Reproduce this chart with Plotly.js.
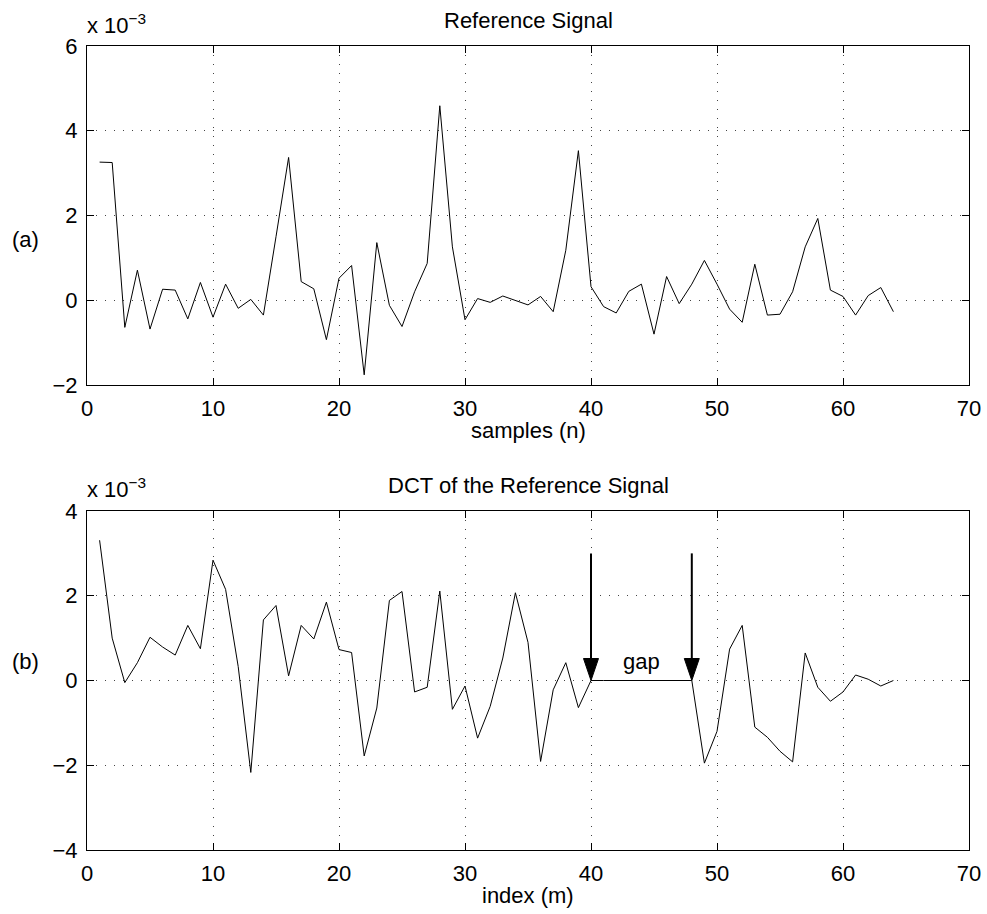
<!DOCTYPE html>
<html>
<head>
<meta charset="utf-8">
<script src="https://cdn.plot.ly/plotly-3.0.1.min.js"></script>
<style>html,body{margin:0;padding:0;background:#fff;}#chart{width:987px;height:914px;}</style>
</head>
<body>
<div id="chart"></div>
<script>
// values in units of 1e-3
var samplesN = [];
for (var i = 1; i <= 64; i++) samplesN.push(i);
var indexM = samplesN.slice();

var refSignal = [3.26, 3.25, -0.64, 0.71, -0.68, 0.26, 0.24, -0.44, 0.42, -0.40,
  0.38, -0.19, 0.02, -0.35, 1.50, 3.37, 0.44, 0.27, -0.93, 0.52,
  0.82, -1.76, 1.36, -0.12, -0.62, 0.20, 0.87, 4.59, 1.26, -0.46,
  0.04, -0.05, 0.10, 0.00, -0.11, 0.09, -0.27, 1.18, 3.53, 0.32,
  -0.15, -0.30, 0.21, 0.38, -0.80, 0.56, -0.08, 0.38, 0.94, 0.38,
  -0.21, -0.52, 0.85, -0.35, -0.33, 0.20, 1.26, 1.93, 0.24, 0.09,
  -0.35, 0.11, 0.30, -0.27];

var dctSignal = [3.31, 1.00, -0.05, 0.42, 1.02, 0.79, 0.60, 1.30, 0.75, 2.84,
  2.15, 0.33, -2.17, 1.43, 1.77, 0.11, 1.30, 0.98, 1.85, 0.73,
  0.66, -1.78, -0.65, 1.89, 2.10, -0.27, -0.16, 2.11, -0.68, -0.13,
  -1.36, -0.61, 0.53, 2.07, 0.90, -1.91, -0.22, 0.42, -0.64, 0.00,
  0.00, 0.00, 0.00, 0.00, 0.00, 0.00, 0.00, 0.00, -1.95, -1.20,
  0.74, 1.30, -1.10, -1.34, -1.67, -1.92, 0.65, -0.16, -0.49, -0.27,
  0.13, 0.03, -0.13, 0.00];

var xTicks = [0, 10, 20, 30, 40, 50, 60, 70];
var yTicksA = [-2, 0, 2, 4, 6];
var yTicksB = [-4, -2, 0, 2, 4];
var gapEdges = [40, 48];
var gapArrowTop = 3;

var W = 987, H = 914;
var M = {l: 87, r: 18, t: 46, b: 64};
var plotW = W - M.l - M.r, plotH = H - M.t - M.b;
var font = 'Liberation Sans, Arial, Helvetica, sans-serif';
var FS = 22;

function px2py(py) { return (H - M.b - py) / plotH; }

var domA = [px2py(385), 1];
var domB = [0, px2py(511)];

// arrow head size in data units (plot b)
var xUnitPx = plotW / 70;
var yUnitPx = (850 - 511) / 8;
var headHalfW = 7.5 / xUnitPx;
var headLen = 22 / yUnitPx;

var shapes = [];
gapEdges.forEach(function (g) {
  shapes.push({type: 'line', xref: 'x2', yref: 'y2', x0: g, x1: g, y0: gapArrowTop, y1: headLen * 0.9,
    line: {color: '#000', width: 2}});
  shapes.push({type: 'path', xref: 'x2', yref: 'y2',
    path: 'M' + (g - headHalfW) + ',' + headLen + ' L' + (g + headHalfW) + ',' + headLen + ' L' + g + ',0 Z',
    fillcolor: '#000', line: {color: '#000', width: 1}});
});

function axisX(anchor) {
  return {domain: [0, 1], anchor: anchor, range: [0, 70], tickvals: xTicks, ticktext: xTicks.map(String),
    ticks: 'inside', ticklen: 7, tickcolor: '#000', showline: true, linecolor: '#000', linewidth: 1,
    mirror: 'ticks', showgrid: true, gridcolor: '#444', griddash: '1px,8px', gridwidth: 1,
    zeroline: false, tickfont: {family: font, size: FS, color: '#000'}, ticklabelstandoff: 4};
}
function axisY(dom, ticks, anchor) {
  return {domain: dom, anchor: anchor, range: [ticks[0], ticks[ticks.length - 1]], tickvals: ticks,
    ticktext: ticks.map(function (t) { return String(t).replace('-', '\u2212'); }),
    ticks: 'inside', ticklen: 7, tickcolor: '#000', showline: true, linecolor: '#000', linewidth: 1,
    mirror: 'ticks', showgrid: true, gridcolor: '#444', griddash: '1px,8px', gridwidth: 1,
    zeroline: false, tickfont: {family: font, size: FS, color: '#000'}, ticklabelstandoff: 4};
}

var data = [
  {x: samplesN, y: refSignal, type: 'scatter', mode: 'lines', line: {color: '#000', width: 1},
   xaxis: 'x', yaxis: 'y', hoverinfo: 'skip'},
  {x: indexM, y: dctSignal, type: 'scatter', mode: 'lines', line: {color: '#000', width: 1},
   xaxis: 'x2', yaxis: 'y2', hoverinfo: 'skip'}
];

function txt(text, x, y, xanchor, size) {
  return {text: text, xref: 'paper', yref: 'paper', x: x, y: y, xanchor: xanchor || 'center', yanchor: 'middle',
    showarrow: false, font: {family: font, size: size || FS, color: '#000'}};
}

var annotations = [
  txt('Reference Signal', 0.5, px2py(21)),
  txt('DCT of the Reference Signal', 0.5, px2py(486)),
  txt('samples (n)', 0.5, px2py(431)),
  txt('index (m)', 0.5, px2py(896)),
  txt('(a)', (25 - M.l) / plotW, px2py(240)),
  txt('(b)', (25 - M.l) / plotW, px2py(661)),
  txt('x 10<sup>\u22123</sup>', -0.002, px2py(24), 'left'),
  txt('x 10<sup>\u22123</sup>', -0.002, px2py(488), 'left'),
  {text: 'gap', xref: 'x2', yref: 'y2', x: (gapEdges[0] + gapEdges[1]) / 2, y: 0.45, showarrow: false,
   xanchor: 'center', yanchor: 'middle', font: {family: font, size: FS, color: '#000'}}
];

var layout = {
  width: W, height: H, margin: M, showlegend: false,
  paper_bgcolor: '#fff', plot_bgcolor: '#fff',
  xaxis: axisX('y'), yaxis: axisY(domA, yTicksA, 'x'),
  xaxis2: axisX('y2'), yaxis2: axisY(domB, yTicksB, 'x2'),
  shapes: shapes, annotations: annotations, font: {family: font}
};

Plotly.newPlot('chart', data, layout, {staticPlot: true});
</script>
</body>
</html>
